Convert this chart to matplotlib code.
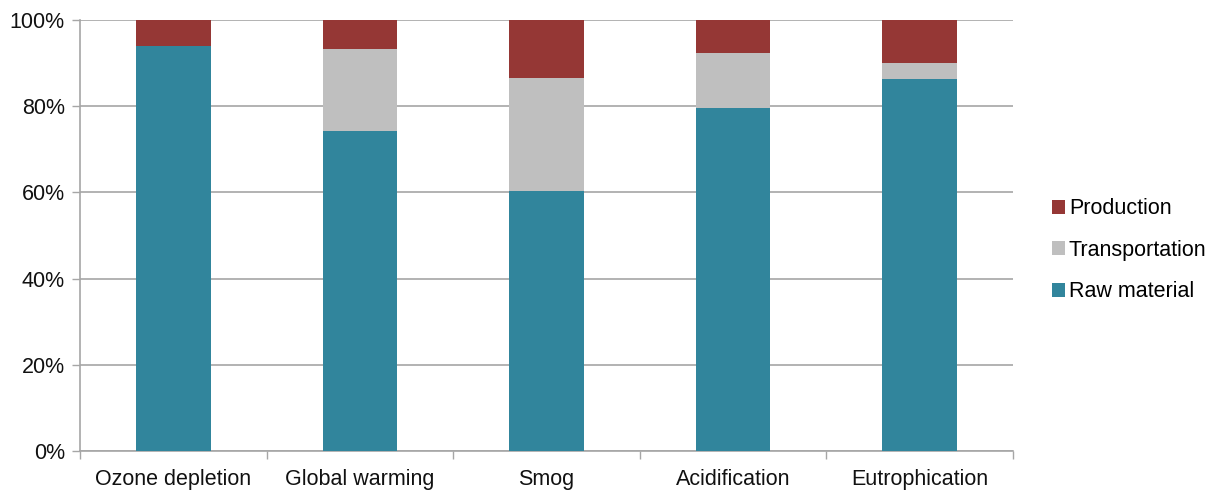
import numpy as np
import matplotlib.pyplot as plt
from matplotlib.ticker import PercentFormatter

plt.rcParams['font.family'] = ['Liberation Sans', 'DejaVu Sans']

categories = ["Ozone depletion", "Global warming", "Smog", "Acidification", "Eutrophication"]
raw_material = [94.0, 74.2, 60.3, 79.7, 86.4]
transportation = [0.0, 19.1, 26.2, 12.7, 3.6]
production = [6.0, 6.7, 13.5, 7.6, 10.0]

colors = {"Raw material": "#31859C", "Transportation": "#BFBFBF", "Production": "#953735"}
axis_gray = "#A6A6A6"

fig = plt.figure(figsize=(12.13, 4.91), dpi=100)
ax = fig.add_axes([0.066, 0.0815, 0.769, 0.8775])

x = np.arange(len(categories))
w = 0.4
raw = np.array(raw_material)
trans = np.array(transportation)
prod = np.array(production)

ax.bar(x, raw, w, color=colors["Raw material"], label="Raw material", zorder=3)
ax.bar(x, trans, w, bottom=raw, color=colors["Transportation"], label="Transportation", zorder=3)
ax.bar(x, prod, w, bottom=raw + trans, color=colors["Production"], label="Production", zorder=3)

ax.set_xlim(-0.5, len(categories) - 0.5)
ax.set_ylim(0, 100)
ax.set_yticks(np.arange(0, 101, 20))
ax.yaxis.set_major_formatter(PercentFormatter(decimals=0))
ax.grid(axis="y", color=axis_gray, linewidth=1.2, zorder=0)

# category labels sit between the boundary ticks
ax.set_xticks(x)
ax.set_xticklabels(categories)
ax.set_xticks(np.arange(-0.5, len(categories)), minor=True)
ax.tick_params(axis="x", which="major", length=0, pad=13, labelsize=15.5, labelcolor="#111111")
ax.tick_params(axis="x", which="minor", length=6, color=axis_gray, width=1)
ax.tick_params(axis="y", length=6, color=axis_gray, width=1, labelsize=15.5, labelcolor="#111111", pad=5)

for side in ["top", "right"]:
    ax.spines[side].set_visible(False)
for side in ["left", "bottom"]:
    ax.spines[side].set_color(axis_gray)
    ax.spines[side].set_linewidth(1.2)

handles, labels = ax.get_legend_handles_labels()
fig.legend(handles[::-1], labels[::-1], loc="center left", bbox_to_anchor=(0.851, 0.49),
           frameon=False, fontsize=15.5, handlelength=0.6, handleheight=0.6,
           handletextpad=0.2, labelspacing=0.95)

fig.savefig("out.png", dpi=100)
